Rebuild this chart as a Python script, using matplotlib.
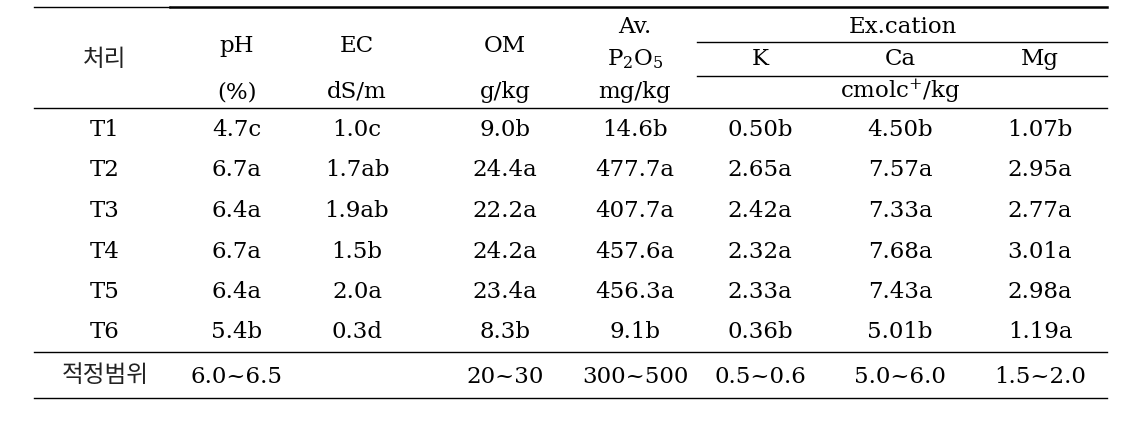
import matplotlib.pyplot as plt

plt.rcParams['font.family'] = ['DejaVu Serif', 'Noto Sans CJK KR']
plt.rcParams['mathtext.fontset'] = 'dejavuserif'

treatments = ['T1', 'T2', 'T3', 'T4', 'T5', 'T6']
ph = ['4.7c', '6.7a', '6.4a', '6.7a', '6.4a', '5.4b']
ec = ['1.0c', '1.7ab', '1.9ab', '1.5b', '2.0a', '0.3d']
om = ['9.0b', '24.4a', '22.2a', '24.2a', '23.4a', '8.3b']
p2o5 = ['14.6b', '477.7a', '407.7a', '457.6a', '456.3a', '9.1b']
k = ['0.50b', '2.65a', '2.42a', '2.32a', '2.33a', '0.36b']
ca = ['4.50b', '7.57a', '7.33a', '7.68a', '7.43a', '5.01b']
mg = ['1.07b', '2.95a', '2.77a', '3.01a', '2.98a', '1.19a']
optimal = ['적정범위', '6.0~6.5', '', '20~30', '300~500', '0.5~0.6', '5.0~6.0', '1.5~2.0']

col_x = [105, 237, 357, 505, 635, 760, 900, 1040]
row_base = [136 + 40.5 * i for i in range(6)]

fig = plt.figure(figsize=(11.38, 4.22), dpi=100)
ax = fig.add_axes([0, 0, 1, 1])
ax.set_xlim(0, 1138)
ax.set_ylim(422, 0)
ax.axis('off')

fs = 16.5
ko = dict(family=['Noto Sans CJK KR'], fontsize=17)

# rules
ax.plot([34, 170], [7, 7], color='black', lw=1.0)
ax.plot([170, 1107], [7, 7], color='black', lw=1.8)
ax.plot([697, 1107], [42, 42], color='black', lw=1.0)
ax.plot([697, 1107], [76, 76], color='black', lw=1.0)
ax.plot([34, 1107], [108, 108], color='black', lw=1.0)
ax.plot([34, 1107], [352, 352], color='black', lw=1.0)
ax.plot([34, 1107], [398, 398], color='black', lw=1.0)

kw = dict(ha='center', va='baseline', fontsize=fs, color='black')

# header
ax.text(col_x[0], 60, '처리', ha='center', va='center', color='#222222', **ko)
ax.text(col_x[1], 52, 'pH', **kw)
ax.text(col_x[1], 98, '(%)', **kw)
ax.text(col_x[2], 52, 'EC', **kw)
ax.text(col_x[2], 98, 'dS/m', **kw)
ax.text(col_x[3], 52, 'OM', **kw)
ax.text(col_x[3], 98, 'g/kg', **kw)
ax.text(col_x[4], 33, 'Av.', **kw)
ax.text(col_x[4], 65, r'P$_2$O$_5$', **kw)
ax.text(col_x[4], 98, 'mg/kg', **kw)
ax.text(903, 33, 'Ex.cation', **kw)
ax.text(col_x[5], 65, 'K', **kw)
ax.text(col_x[6], 65, 'Ca', **kw)
ax.text(col_x[7], 65, 'Mg', **kw)
ax.text(900, 98, r'cmolc$^{+}$/kg', **kw)

columns = [treatments, ph, ec, om, p2o5, k, ca, mg]
for x, col in zip(col_x, columns):
    for y, val in zip(row_base, col):
        ax.text(x, y, val, **kw)

ax.text(col_x[0], 375, optimal[0], ha='center', va='center', color='#222222', **ko)
for x, val in zip(col_x[1:], optimal[1:]):
    ax.text(x, 383, val, **kw)

fig.savefig('out.png', dpi=100)
